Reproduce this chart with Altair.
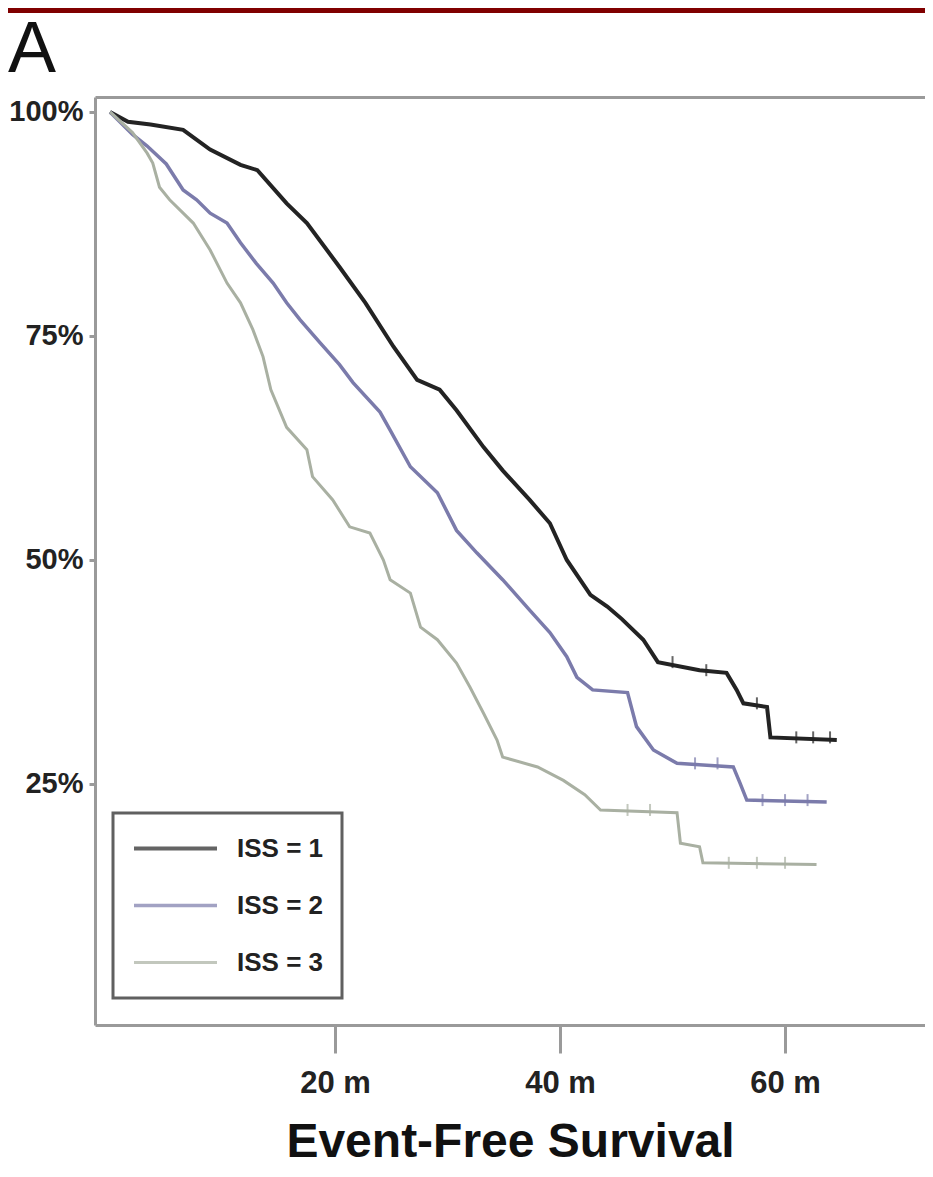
import altair as alt
import pandas as pd

groups = ["ISS = 1", "ISS = 2", "ISS = 3"]
colors = ["#232323", "#7b7bab", "#a9b0a2"]
widths = [4.0, 3.0, 2.5]

iss1_t = [0, 1.6, 3.6, 6.5, 8.9, 11.6, 13.1, 15.7, 17.5, 20.4, 22.7, 25.2, 27.3, 29.3, 30.8, 33.2,
          34.9, 37.3, 39.1, 40.6, 42.7, 44.2, 45.5, 47.4, 48.7, 52.4, 54.8, 55.7, 56.3, 58.4, 58.7, 64.6]
iss1_s = [1.0, 0.989, 0.986, 0.980, 0.958, 0.941, 0.935, 0.898, 0.876, 0.827, 0.787, 0.738, 0.701, 0.690,
          0.667, 0.626, 0.600, 0.567, 0.541, 0.500, 0.461, 0.448, 0.434, 0.411, 0.386, 0.377, 0.374, 0.355,
          0.340, 0.336, 0.302, 0.299]

iss2_t = [0, 2.0, 3.3, 5.0, 6.5, 7.7, 8.9, 10.4, 11.6, 13.0, 14.5, 15.7, 16.9, 18.7, 20.4, 21.6, 24.0,
          24.9, 26.7, 29.1, 30.8, 32.6, 34.9, 37.3, 39.1, 40.6, 41.5, 42.9, 46.0, 46.8, 48.3, 50.4, 55.4,
          56.0, 56.6, 63.7]
iss2_s = [1.0, 0.975, 0.962, 0.942, 0.913, 0.902, 0.887, 0.876, 0.854, 0.831, 0.809, 0.787, 0.768, 0.742,
          0.718, 0.698, 0.665, 0.645, 0.604, 0.575, 0.533, 0.508, 0.478, 0.444, 0.419, 0.392, 0.369, 0.355,
          0.352, 0.314, 0.288, 0.273, 0.269, 0.251, 0.232, 0.230]

iss3_t = [0, 2.0, 3.3, 3.8, 4.4, 5.3, 7.4, 8.9, 10.4, 11.6, 12.7, 13.6, 14.3, 15.7, 17.5, 18.0, 19.8,
          21.3, 23.1, 24.3, 24.9, 26.7, 27.6, 29.1, 30.8, 32.0, 33.2, 34.4, 34.9, 38.0, 40.3, 42.2, 43.6,
          50.4, 50.7, 52.4, 52.7, 62.8]
iss3_s = [1.0, 0.977, 0.954, 0.943, 0.916, 0.902, 0.876, 0.846, 0.809, 0.787, 0.757, 0.727, 0.690, 0.648,
          0.623, 0.593, 0.567, 0.537, 0.530, 0.500, 0.478, 0.463, 0.425, 0.411, 0.385, 0.358, 0.329, 0.299,
          0.280, 0.269, 0.254, 0.238, 0.221, 0.218, 0.184, 0.180, 0.162, 0.160]

# censored observations (tick marks on the curves)
cens1_t = [50.0, 53.0, 57.5, 61.0, 62.5, 64.0]
cens2_t = [52.0, 54.0, 58.0, 60.0, 62.0]
cens3_t = [46.0, 48.0, 55.0, 57.5, 60.0]

x_ticks = [20, 40, 60]
y_ticks = [0.25, 0.5, 0.75, 1.0]

panel_label = ["A"]

series = [(groups[0], iss1_t, iss1_s, cens1_t),
          (groups[1], iss2_t, iss2_s, cens2_t),
          (groups[2], iss3_t, iss3_s, cens3_t)]

rows, crows = [], []
for g, ts, ss, cs in series:
    for t, s in zip(ts, ss):
        rows.append({"group": g, "t": t, "s": s})
    for c in cs:
        # survival value of the curve at the censoring time (last point at or before it)
        val = [s for t, s in zip(ts, ss) if t <= c][-1]
        crows.append({"group": g, "t": c, "s": val})
df = pd.DataFrame(rows)
cdf = pd.DataFrame(crows)

FONT = "Liberation Sans Narrow, Arial Narrow, Liberation Sans, Arial, sans-serif"

xscale = alt.Scale(domain=[-1.333, 72.44], nice=False, zero=False)
yscale = alt.Scale(domain=[-0.019, 1.0167], nice=False, zero=False)
cscale = alt.Scale(domain=groups, range=colors)
wscale = alt.Scale(domain=groups, range=widths)

lines = alt.Chart(df).mark_line(interpolate="linear").encode(
    x=alt.X("t:Q", scale=xscale,
            axis=alt.Axis(values=x_ticks, labelExpr="datum.value + ' m'", title="Event-Free Survival",
                          grid=False, tickSize=28, labelPadding=15, titlePadding=20)),
    y=alt.Y("s:Q", scale=yscale,
            axis=alt.Axis(values=y_ticks, format=".0%", title=None, grid=False, tickSize=6,
                          labelPadding=6, labelFontSize=29)),
    color=alt.Color("group:N", scale=cscale,
                    legend=alt.Legend(title=None, orient="none", legendX=18, legendY=716,
                                      direction="vertical", symbolType="stroke", symbolSize=6889,
                                      symbolStrokeWidth=3, labelFont=FONT, labelFontSize=26,
                                      labelFontWeight="bold", labelColor="#222", strokeColor="#606060",
                                      fillColor="white", padding=19, rowPadding=24, clipHeight=33,
                                      labelOffset=18)),
    strokeWidth=alt.StrokeWidth("group:N", scale=wscale, legend=None),
)

cens = alt.Chart(cdf).mark_tick(orient="vertical", size=12, thickness=2).encode(
    x=alt.X("t:Q", scale=xscale,
            axis=alt.Axis(orient="top", labels=False, ticks=False, title=None, grid=False)),
    y=alt.Y("s:Q", scale=yscale),
    color=alt.Color("group:N", scale=cscale),
)

bar = alt.Chart(pd.DataFrame({"k": [0]})).mark_rect(color="#800000").encode(
    x=alt.value(-87), x2=alt.value(830), y=alt.value(-89), y2=alt.value(-84)
)

label_a = alt.Chart(pd.DataFrame({"lab": panel_label})).mark_text(
    font=FONT, fontSize=72, color="#111", align="left", baseline="alphabetic"
).encode(x=alt.value(-87), y=alt.value(-25), text="lab:N")

chart = alt.layer(lines, cens, bar, label_a).resolve_axis(x="independent").properties(
    width=830, height=928,
    autosize=alt.AutoSizeParams(type="none"),
    padding={"left": 87, "top": 89, "right": 0, "bottom": 144},
).configure_view(strokeWidth=0).configure_axis(
    domainColor="#9a9a9a", domainWidth=3, tickColor="#9a9a9a", tickWidth=3,
    labelFont=FONT, labelFontSize=31, labelFontWeight="bold", labelColor="#222",
    titleFont=FONT, titleFontSize=48, titleFontWeight="bold", titleColor="#111",
).configure_legend(strokeWidth=3)

chart.save("out.html", embed_options={"renderer": "svg", "actions": False})
